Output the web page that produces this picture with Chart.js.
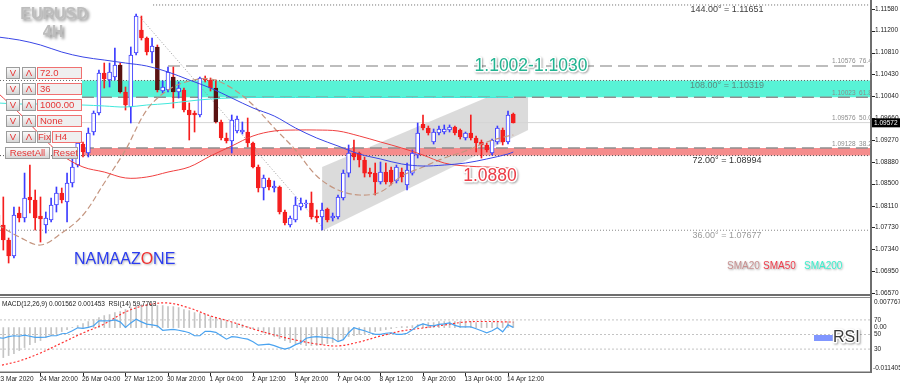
<!DOCTYPE html>
<html lang="en">
<head>
<meta charset="UTF-8">
<title>EURUSD 4H</title>
<script src="https://cdn.jsdelivr.net/npm/chart.js"></script>
<style>
  body { margin: 0; background: #fff; width: 900px; height: 385px; overflow: hidden; position: relative;
         font-family: "Liberation Sans", Arial, sans-serif; }
  canvas { position: absolute; left: 0; }
  #main { top: 0; }
  #ind { top: 296px; }
  .btn, .box { position: absolute; height: 12px; box-sizing: border-box; font-size: 9.5px; line-height: 10px; color: #e53535; white-space: nowrap; }
  .btn { background: linear-gradient(#fafafa, #d6d6d6); border: 1px solid #9c9c9c; text-align: center; }
  .box { background: #efefef; border: 1px solid #f07070; padding-left: 2px; }
</style>
</head>
<body>
<canvas id="main" width="900" height="296"></canvas>
<canvas id="ind" width="900" height="89"></canvas>

<div class="btn" style="left:6px;top:67px;width:14px">V</div>
<div class="btn" style="left:22px;top:67px;width:14px">Λ</div>
<div class="box" style="left:37px;top:67px;width:45px">72.0</div>
<div class="btn" style="left:6px;top:83px;width:14px">V</div>
<div class="btn" style="left:22px;top:83px;width:14px">Λ</div>
<div class="box" style="left:37px;top:83px;width:45px">36</div>
<div class="btn" style="left:6px;top:99px;width:14px">V</div>
<div class="btn" style="left:22px;top:99px;width:14px">Λ</div>
<div class="box" style="left:37px;top:99px;width:45px">1000.00</div>
<div class="btn" style="left:6px;top:115px;width:14px">V</div>
<div class="btn" style="left:22px;top:115px;width:14px">Λ</div>
<div class="box" style="left:37px;top:115px;width:45px">None</div>
<div class="btn" style="left:6px;top:131px;width:14px">V</div>
<div class="btn" style="left:22px;top:131px;width:14px">Λ</div>
<div class="btn" style="left:37px;top:131px;width:14px">Fix</div>
<div class="box" style="left:52px;top:131px;width:30px">H4</div>
<div class="btn" style="left:5px;top:147px;width:45px">ResetAll</div>
<div class="btn" style="left:52px;top:147px;width:26px">Reset</div>

<script>
// ---------- data ----------
const timeLabels = ['23 Mar 2020', '24 Mar 20:00', '26 Mar 04:00', '27 Mar 12:00', '30 Mar 20:00', '1 Apr 04:00',
  '2 Apr 12:00', '3 Apr 20:00', '7 Apr 04:00', '8 Apr 12:00', '9 Apr 20:00', '13 Apr 04:00', '14 Apr 12:00'];
const timeLabelBars = [0, 8, 16, 24, 32, 40, 48, 56, 64, 72, 80, 88, 96];

const priceTicks = [1.11580, 1.11200, 1.10810, 1.10430, 1.10040, 1.09660, 1.09270,
  1.08880, 1.08500, 1.08110, 1.07730, 1.07340, 1.06950, 1.06570];

const opens = [1.07946, 1.07770, 1.07505, 1.07223, 1.07981, 1.07893, 1.08264, 1.08211, 1.07928, 1.07770,
  1.07858, 1.08122, 1.08334, 1.08175, 1.08511, 1.08828, 1.09198, 1.09040, 1.09410, 1.09745,
  1.10451, 1.10328, 1.10380, 1.10592, 1.10116, 1.09851, 1.10804, 1.11210, 1.11068, 1.10821,
  1.10910, 1.10133, 1.10151, 1.10380, 1.10116, 1.10151, 1.09798, 1.09745, 1.09710, 1.10363,
  1.10328, 1.10186, 1.09587, 1.09304, 1.09251, 1.09428, 1.09410, 1.09410, 1.09216, 1.08793,
  1.08422, 1.08563, 1.08422, 1.08440, 1.07999, 1.07770, 1.07858, 1.08087, 1.08140, 1.08158,
  1.07928, 1.07911, 1.08052, 1.07893, 1.07911, 1.08246, 1.08686, 1.09040, 1.09040, 1.08916,
  1.08704, 1.08686, 1.08528, 1.08704, 1.08740, 1.08546, 1.08704, 1.08475, 1.08686, 1.09004,
  1.09551, 1.09481, 1.09234, 1.09392, 1.09410, 1.09445, 1.09498, 1.09445, 1.09304, 1.09392,
  1.09304, 1.09234, 1.09181, 1.09040, 1.09234, 1.09445, 1.09234, 1.09728];
const highs = [1.08122, 1.08264, 1.07540, 1.08087, 1.08087, 1.08686, 1.08828, 1.08387, 1.08264, 1.07999,
  1.08246, 1.08440, 1.08422, 1.08686, 1.08951, 1.09304, 1.09234, 1.09481, 1.09781, 1.10504,
  1.10627, 1.10627, 1.10892, 1.10627, 1.10204, 1.10910, 1.11492, 1.11456, 1.11086, 1.11068,
  1.10945, 1.10310, 1.10557, 1.10557, 1.10292, 1.10186, 1.09922, 1.09781, 1.10380, 1.10398,
  1.10363, 1.10328, 1.09622, 1.09392, 1.09710, 1.09692, 1.09587, 1.09657, 1.09234, 1.08828,
  1.08651, 1.08599, 1.08546, 1.08458, 1.08034, 1.07928, 1.08264, 1.08246, 1.08211, 1.08352,
  1.08034, 1.08158, 1.08069, 1.07981, 1.08299, 1.08740, 1.09181, 1.09269, 1.09057, 1.08969,
  1.08775, 1.08863, 1.08881, 1.08863, 1.08793, 1.08828, 1.08775, 1.08863, 1.09093, 1.09569,
  1.09710, 1.09516, 1.09463, 1.09516, 1.09534, 1.09534, 1.09516, 1.09463, 1.09410, 1.09710,
  1.09340, 1.09269, 1.09216, 1.09287, 1.09516, 1.09481, 1.09781, 1.09745];
const lows = [1.07417, 1.07328, 1.07099, 1.07187, 1.07823, 1.07823, 1.07981, 1.07681, 1.07469, 1.07628,
  1.07823, 1.07999, 1.08158, 1.07823, 1.08440, 1.08793, 1.08969, 1.08969, 1.09357, 1.09710,
  1.10186, 1.10204, 1.10328, 1.10098, 1.09798, 1.09569, 1.10769, 1.11033, 1.10769, 1.10627,
  1.10116, 1.10098, 1.10116, 1.09834, 1.10010, 1.09763, 1.09269, 1.09410, 1.09675, 1.10292,
  1.10133, 1.09569, 1.09269, 1.09216, 1.09040, 1.09392, 1.09375, 1.09146, 1.08775, 1.08352,
  1.08211, 1.08387, 1.08352, 1.07964, 1.07770, 1.07734, 1.07823, 1.08034, 1.08069, 1.07875,
  1.07823, 1.07681, 1.07823, 1.07840, 1.07875, 1.08211, 1.08616, 1.08916, 1.08793, 1.08616,
  1.08616, 1.08299, 1.08493, 1.08493, 1.08475, 1.08511, 1.08528, 1.08387, 1.08651, 1.08951,
  1.09445, 1.09357, 1.09198, 1.09357, 1.09375, 1.09410, 1.09357, 1.09287, 1.09269, 1.09269,
  1.09057, 1.08951, 1.09057, 1.09004, 1.09198, 1.09181, 1.09198, 1.09569];
const closes = [1.07717, 1.07505, 1.07223, 1.07946, 1.07893, 1.08246, 1.08211, 1.07893, 1.07875, 1.07893,
  1.08122, 1.08334, 1.08211, 1.08511, 1.08793, 1.09216, 1.09057, 1.09392, 1.09745, 1.10451,
  1.10345, 1.10469, 1.10592, 1.10116, 1.09886, 1.10769, 1.11456, 1.11068, 1.10821, 1.10927,
  1.10151, 1.10204, 1.10469, 1.10116, 1.10186, 1.09798, 1.09710, 1.09710, 1.10363, 1.10328,
  1.10186, 1.09587, 1.09304, 1.09251, 1.09622, 1.09639, 1.09445, 1.09216, 1.08793, 1.08422,
  1.08599, 1.08440, 1.08458, 1.07999, 1.07805, 1.07893, 1.08122, 1.08158, 1.08140, 1.07911,
  1.07893, 1.08034, 1.07858, 1.07928, 1.08264, 1.08686, 1.09040, 1.08969, 1.08916, 1.08686,
  1.08669, 1.08528, 1.08704, 1.08528, 1.08528, 1.08793, 1.08616, 1.08740, 1.09040, 1.09392,
  1.09481, 1.09392, 1.09410, 1.09463, 1.09463, 1.09498, 1.09392, 1.09322, 1.09392, 1.09304,
  1.09216, 1.09181, 1.09093, 1.09269, 1.09481, 1.09234, 1.09710, 1.09572];

// moving averages, read every 4th bar
const maBars = [0, 4, 8, 12, 16, 20, 24, 28, 32, 36, 40, 44, 48, 52, 56, 60, 64, 68, 72, 76, 80, 84, 88, 92, 96, 97];
const sma20 = [1.07770, 1.07558, 1.07417, 1.07628, 1.07946, 1.08511, 1.09093, 1.09798, 1.10151, 1.10310,
  1.10345, 1.10186, 1.09886, 1.09481, 1.09093, 1.08634, 1.08387, 1.08299, 1.08352, 1.08634,
  1.08793, 1.08951, 1.09075, 1.09234, 1.09340, 1.09357];
const sma50 = [1.10098, 1.09745, 1.09357, 1.09004, 1.08793, 1.08704, 1.08599, 1.08616, 1.08704, 1.08793,
  1.08987, 1.09163, 1.09340, 1.09428, 1.09445, 1.09445, 1.09428, 1.09340, 1.09234, 1.09128,
  1.09004, 1.08863, 1.08810, 1.08793, 1.08775, 1.08775];
const maBlue = [1.11086, 1.11033, 1.10945, 1.10821, 1.10733, 1.10680, 1.10627, 1.10574, 1.10469, 1.10328,
  1.10186, 1.10010, 1.09834, 1.09692, 1.09481, 1.09304, 1.09163, 1.09022, 1.08934, 1.08846,
  1.08810, 1.08828, 1.08863, 1.08934, 1.09022, 1.09057];
const sma200 = [1.09922, 1.09904, 1.09904, 1.09886, 1.09886, 1.09869, 1.09851, 1.09886, 1.09913, 1.09957,
  1.09992, 1.10010, 1.10019, 1.10019, 1.10019, 1.10019, 1.10019, 1.10019, 1.10019, 1.10019,
  1.10019, 1.10019, 1.10019, 1.10019, 1.10019, 1.10019];

// levels
const gannAngles = ['144.00', '108.00', '72.00', '36.00'];
const gannPrices = [1.11651, 1.10319, 1.08994, 1.07677];
const fibRatios = ['76.4', '61.8', '50.0', '38.2'];
const fibPrices = [1.10576, 1.10023, 1.09576, 1.09128];

// channel and trend line (bar index, price)
const channelBars = [61.0, 99.8];
const channelTop = [1.08793, 1.10328];
const channelBottom = [1.07664, 1.09445];
const trendBars = [26.7, 61.2];
const trendPrices = [1.11439, 1.07717];

// MACD(12,26,9) histogram and signal, RSI(14)
const macdHist = [-0.00788, -0.00788, -0.00735, -0.00683, -0.00604, -0.00525, -0.00446, -0.00394, -0.00341, -0.00263,
  -0.00210, -0.00158, -0.00105, -0.00053, 0.00005, 0.00053, 0.00105, 0.00158, 0.00210, 0.00263,
  0.00315, 0.00341, 0.00394, 0.00420, 0.00473, 0.00525, 0.00578, 0.00604, 0.00604, 0.00604,
  0.00578, 0.00578, 0.00551, 0.00551, 0.00525, 0.00473, 0.00446, 0.00394, 0.00368, 0.00341,
  0.00289, 0.00263, 0.00210, 0.00158, 0.00131, 0.00105, 0.00079, 0.00026, -0.00026, -0.00079,
  -0.00131, -0.00184, -0.00236, -0.00289, -0.00341, -0.00394, -0.00420, -0.00446, -0.00473, -0.00473,
  -0.00473, -0.00446, -0.00420, -0.00394, -0.00341, -0.00289, -0.00236, -0.00210, -0.00184, -0.00158,
  -0.00131, -0.00105, -0.00079, -0.00053, -0.00026, 0.00003, 0.00026, 0.00026, 0.00053, 0.00079,
  0.00105, 0.00131, 0.00131, 0.00158, 0.00158, 0.00158, 0.00158, 0.00158, 0.00158, 0.00158,
  0.00131, 0.00131, 0.00131, 0.00131, 0.00131, 0.00131, 0.00155, 0.001562];
const macdSignal = [-0.01008, -0.00877, -0.00667, -0.00404, -0.00142, 0.00095, 0.00410, 0.00593, 0.00646, 0.00515,
  0.00305, 0.00147, -0.00037, -0.00194, -0.00326, -0.00431, -0.00483, -0.00378, -0.00221, -0.00089,
  -0.00011, 0.00068, 0.00147, 0.00160, 0.00147, 0.001453];
const rsi14 = [45.6, 44.9, 47.0, 48.3, 47.6, 49.0, 47.6, 46.0, 46.0, 46.3,
  48.3, 48.3, 51.0, 51.7, 55.1, 59.2, 58.5, 59.8, 61.9, 68.6,
  68.6, 68.6, 70.0, 67.3, 59.8, 65.9, 71.0, 67.3, 64.2, 63.2,
  61.9, 55.8, 56.4, 57.1, 55.8, 54.4, 52.4, 48.3, 48.3, 54.4,
  54.4, 53.0, 48.3, 43.6, 47.0, 46.3, 44.9, 43.6, 40.2, 35.4,
  36.1, 36.8, 34.7, 32.0, 30.0, 32.0, 36.1, 38.8, 44.9, 46.3,
  47.0, 46.3, 45.6, 44.9, 40.2, 42.9, 52.4, 59.2, 57.1, 55.1,
  52.4, 50.3, 50.3, 51.7, 52.4, 50.3, 50.3, 51.7, 56.4, 61.9,
  64.6, 62.5, 61.9, 63.9, 64.6, 65.9, 62.5, 60.5, 60.5, 60.5,
  57.8, 55.1, 52.4, 55.1, 59.2, 53.7, 63.2, 59.8];
const rsiLevels = [70, 50, 30];

// ---------- view ----------
const X_MIN = 0.3765, X_MAX = 164.33;
const FONT = '"Liberation Sans", Arial, sans-serif';
const BLUE = '#3c3cff', RED = '#f51e1e';
const bars = opens.map((_, i) => i);
const isBull = i => closes[i] >= opens[i];
const darkBear = new Set([23, 30, 33, 41]);
const pts = (xs, ys) => xs.map((x, i) => ({ x: x, y: ys[i] }));

function hLine(price, fromBar, color, dash, width, order) {
  return { type: 'line', data: [{ x: fromBar, y: price }, { x: X_MAX, y: price }], borderColor: color,
    borderWidth: width, borderDash: dash, pointRadius: 0, fill: false, order: order };
}

function label(ctx, text, x, y, o) {
  ctx.save();
  ctx.font = o.font;
  ctx.textAlign = o.align || 'left';
  ctx.textBaseline = o.base || 'middle';
  if (o.shadow) {
    ctx.shadowColor = o.shadow;
    ctx.shadowOffsetX = o.sx ?? 1;
    ctx.shadowOffsetY = o.sy ?? 1;
    ctx.shadowBlur = o.blur ?? 2;
  }
  if (o.stroke) {
    ctx.lineWidth = o.lw || 3;
    ctx.lineJoin = 'round';
    ctx.strokeStyle = o.stroke;
    ctx.strokeText(text, x, y);
    ctx.shadowColor = 'transparent';
  }
  ctx.fillStyle = o.color;
  ctx.fillText(text, x, y);
  ctx.restore();
}

// overlay for the price window: axis, frame, texts
const mainOverlay = {
  id: 'mainOverlay',
  afterDraw(chart) {
    const { ctx, scales: { x, y } } = chart;
    ctx.save();
    ctx.fillStyle = '#6e6e6e';
    ctx.fillRect(870, 0, 2, 296);
    ctx.fillRect(0, 294, 872, 2);

    ctx.font = '6.5px ' + FONT;
    ctx.textBaseline = 'middle';
    ctx.fillStyle = '#222';
    priceTicks.forEach(p => {
      const py = y.getPixelForValue(p);
      ctx.fillRect(872, Math.round(py), 3, 1);
      ctx.fillText(p.toFixed(5), 875, py);
    });
    const cp = closes[closes.length - 1];
    const cy = y.getPixelForValue(cp);
    ctx.fillStyle = '#000';
    ctx.fillRect(872, cy - 4.5, 28, 9);
    ctx.fillStyle = '#fff';
    ctx.fillText(cp.toFixed(5), 874, cy + 0.5);

    // fibonacci labels at the right edge
    ctx.beginPath();
    ctx.rect(0, 0, 871, 296);
    ctx.clip();
    fibPrices.forEach((p, k) => {
      label(ctx, p.toFixed(5) + '  ' + fibRatios[k], 832, y.getPixelForValue(p) - 1,
        { font: '6.5px ' + FONT, color: '#8c8c8c', base: 'bottom' });
    });
    ctx.restore();

    // gann angle labels
    const gannColors = ['#3c3c3c', '#5b8c80', '#333333', '#9a9a9a'];
    gannPrices.forEach((p, k) => {
      label(ctx, gannAngles[k] + '° = ' + p.toFixed(5), 727, y.getPixelForValue(p) + 5,
        { font: '9px ' + FONT, color: gannColors[k], align: 'center' });
    });

    // zone captions
    label(ctx, '1.1002-1.1030', 531, 66, { font: '17.5px ' + FONT, color: '#22b491', align: 'center',
      stroke: '#ffffff', lw: 3, shadow: 'rgba(0,0,0,0.35)', sx: 1, sy: 1, blur: 2 });
    label(ctx, '1.0880', 490, 176, { font: '17.5px ' + FONT, color: '#eb3c46', align: 'center',
      stroke: '#ffffff', lw: 3, shadow: 'rgba(0,0,0,0.35)', sx: 1, sy: 1, blur: 2 });

    // symbol title
    label(ctx, 'EURUSD', 54, 15, { font: 'bold 16px ' + FONT, color: '#bdbdbd', align: 'center',
      shadow: 'rgba(0,0,0,0.45)', sx: 2, sy: 2, blur: 3 });
    label(ctx, '4H', 53, 33, { font: 'bold 16px ' + FONT, color: '#bdbdbd', align: 'center',
      shadow: 'rgba(0,0,0,0.45)', sx: 2, sy: 2, blur: 3 });

    // logo
    ctx.save();
    ctx.font = '16px ' + FONT;
    let lx = 74;
    [['NAMAAZ', '#2b3cf0'], ['O', '#f03030'], ['NE', '#2b3cf0']].forEach(([t, c]) => {
      label(ctx, t, lx, 260, { font: '16px ' + FONT, color: c, shadow: 'rgba(0,0,0,0.3)', sx: 1, sy: 1, blur: 2 });
      lx += ctx.measureText(t).width;
    });
    ctx.restore();

    // moving average legend
    const sh = { shadow: 'rgba(0,0,0,0.35)', sx: 1, sy: 1, blur: 2 };
    label(ctx, 'SMA20', 727, 266, Object.assign({ font: '10px ' + FONT, color: '#c89090' }, sh));
    label(ctx, 'SMA50', 763, 266, Object.assign({ font: '10px ' + FONT, color: '#f03c4b' }, sh));
    label(ctx, 'SMA200', 804, 266, Object.assign({ font: '10px ' + FONT, color: '#3cf0cd' }, sh));
  }
};

new Chart(document.getElementById('main'), {
  type: 'bar',
  data: {
    datasets: [
      // MA lines on top
      { type: 'line', data: pts(maBars, maBlue), borderColor: '#3a46e6', borderWidth: 1, pointRadius: 0, tension: 0.35, order: 1 },
      { type: 'line', data: pts(maBars, sma50), borderColor: '#f04040', borderWidth: 1, pointRadius: 0, tension: 0.35, order: 2 },
      { type: 'line', data: pts(maBars, sma20), borderColor: '#c4957f', borderWidth: 1.2, borderDash: [6, 3], pointRadius: 0, tension: 0.35, order: 3 },
      { type: 'line', data: pts(maBars, sma200), borderColor: '#40e8dc', borderWidth: 1, pointRadius: 0, tension: 0.35, order: 4 },
      // candles
      { data: bars.map(i => ({ x: i, y: [opens[i], closes[i]] })), grouped: false, barThickness: 4, minBarLength: 1,
        borderWidth: 1, borderSkipped: false,
        borderColor: c => isBull(c.dataIndex) ? BLUE : (darkBear.has(c.dataIndex) ? '#5a1212' : RED),
        backgroundColor: c => isBull(c.dataIndex) ? '#ffffff' : (darkBear.has(c.dataIndex) ? '#5a1212' : RED), order: 9 },
      { data: bars.map(i => ({ x: i, y: [lows[i], highs[i]] })), grouped: false, barThickness: 1,
        backgroundColor: c => isBull(c.dataIndex) ? BLUE : RED, order: 10 },
      // trend line
      { type: 'line', data: pts(trendBars, trendPrices), borderColor: '#9a9a9a', borderWidth: 1, borderDash: [1, 2], pointRadius: 0, order: 12 },
      // gann and fibonacci levels
      hLine(gannPrices[0], 29.2, '#666', [1, 2], 1, 14),
      hLine(gannPrices[1], X_MIN, '#666', [1, 2], 1, 14),
      hLine(gannPrices[2], X_MIN, '#555', [1, 2], 1, 14),
      hLine(gannPrices[3], X_MIN, '#888', [1, 2], 1, 14),
      hLine(fibPrices[0], 32, '#a8a8a8', [12, 6], 1.5, 15),
      hLine(fibPrices[1], 15.8, '#8f8f8f', [12, 6], 1.5, 15),
      hLine(fibPrices[2], 15.8, '#d6d6d6', [], 1, 15),
      hLine(fibPrices[3], 15.8, '#8f8f8f', [12, 6], 1.5, 15),
      // zones
      { type: 'line', data: [{ x: 15.8, y: gannPrices[1] }, { x: X_MAX, y: gannPrices[1] }], borderWidth: 0, pointRadius: 0,
        fill: { value: fibPrices[1] }, backgroundColor: '#58f3d6', order: 18 },
      { type: 'line', data: [{ x: 15.8, y: fibPrices[3] }, { x: X_MAX, y: fibPrices[3] }], borderWidth: 0, pointRadius: 0,
        fill: { value: gannPrices[2] }, backgroundColor: '#f58c8c', order: 18 },
      // channel
      { type: 'line', data: pts(channelBars, channelTop), borderWidth: 0, pointRadius: 0, fill: false, order: 20 },
      { type: 'line', data: pts(channelBars, channelBottom), borderWidth: 0, pointRadius: 0, fill: '-1',
        backgroundColor: 'rgba(175,175,175,0.45)', order: 20 }
    ]
  },
  options: {
    responsive: false, animation: false, devicePixelRatio: 1,
    layout: { padding: { left: 0, right: 29, top: 0, bottom: 0 } },
    plugins: { legend: { display: false }, tooltip: { enabled: false } },
    scales: {
      x: { type: 'linear', min: X_MIN, max: X_MAX, offset: false, display: false },
      y: { type: 'linear', min: 1.065171, max: 1.117388, display: false }
    }
  },
  plugins: [mainOverlay]
});

// overlay for the indicator window
const indOverlay = {
  id: 'indOverlay',
  afterDraw(chart) {
    const { ctx, scales: { x, macd, rsi } } = chart;
    ctx.save();
    ctx.fillStyle = '#8a8a8a';
    ctx.fillRect(0, 1, 872, 1);
    ctx.fillStyle = '#6e6e6e';
    ctx.fillRect(870, 0, 2, 77);
    ctx.fillRect(0, 75.5, 872, 1.5);

    ctx.font = '6.5px ' + FONT;
    ctx.fillStyle = '#222';
    ctx.textBaseline = 'middle';
    ctx.fillText('MACD(12,26,9) ' + macdHist[macdHist.length - 1].toFixed(6) + ' ' +
      macdSignal[macdSignal.length - 1].toFixed(6) + '  RSI(14) 59.7763', 2, 8);

    ctx.fillText(macd.max.toFixed(6), 874, 6.5);
    ctx.fillText('0.00', 874, macd.getPixelForValue(0));
    rsiLevels.forEach(v => ctx.fillText(String(v), 874, rsi.getPixelForValue(v)));
    ctx.fillText(macd.min.toFixed(6), 873, 72);

    // time axis
    ctx.textBaseline = 'middle';
    timeLabelBars.forEach((b, k) => {
      const px = x.getPixelForValue(b);
      ctx.fillRect(Math.round(px), 77, 1, 3);
      ctx.fillText(timeLabels[k], px - 1, 83);
    });

    // RSI legend
    ctx.fillStyle = '#8096ff';
    ctx.fillRect(814, 39, 19, 6);
    label(ctx, 'RSI', 833, 42, { font: '16px ' + FONT, color: '#3a3a3a', stroke: '#ffffff', lw: 3,
      shadow: 'rgba(0,0,0,0.35)', sx: 1, sy: 1, blur: 2 });
    ctx.restore();
  }
};

new Chart(document.getElementById('ind'), {
  type: 'bar',
  data: {
    datasets: [
      { type: 'line', yAxisID: 'rsi', data: pts(bars, rsi14), borderColor: '#4aa3f0', borderWidth: 1.2, pointRadius: 0, order: 1 },
      { type: 'line', yAxisID: 'macd', data: pts(maBars, macdSignal), borderColor: '#ff3030', borderWidth: 1.2,
        borderDash: [2, 2], pointRadius: 0, tension: 0.35, order: 2 },
      { yAxisID: 'macd', data: pts(bars, macdHist), barThickness: 1, backgroundColor: '#c4c4c4', order: 3 },
      ...rsiLevels.map(v => ({ type: 'line', yAxisID: 'rsi', data: [{ x: X_MIN, y: v }, { x: X_MAX, y: v }],
        borderColor: '#c4c4c4', borderWidth: 1, borderDash: [2, 2], pointRadius: 0, order: 4 }))
    ]
  },
  options: {
    responsive: false, animation: false, devicePixelRatio: 1,
    layout: { padding: { left: 0, right: 29, top: 2, bottom: 14 } },
    plugins: { legend: { display: false }, tooltip: { enabled: false } },
    scales: {
      x: { type: 'linear', min: X_MIN, max: X_MAX, offset: false, display: false },
      macd: { type: 'linear', position: 'right', min: -0.011405, max: 0.007767, display: false },
      rsi: { type: 'linear', position: 'right', min: 0, max: 100, display: false }
    }
  },
  plugins: [indOverlay]
});
</script>
</body>
</html>
